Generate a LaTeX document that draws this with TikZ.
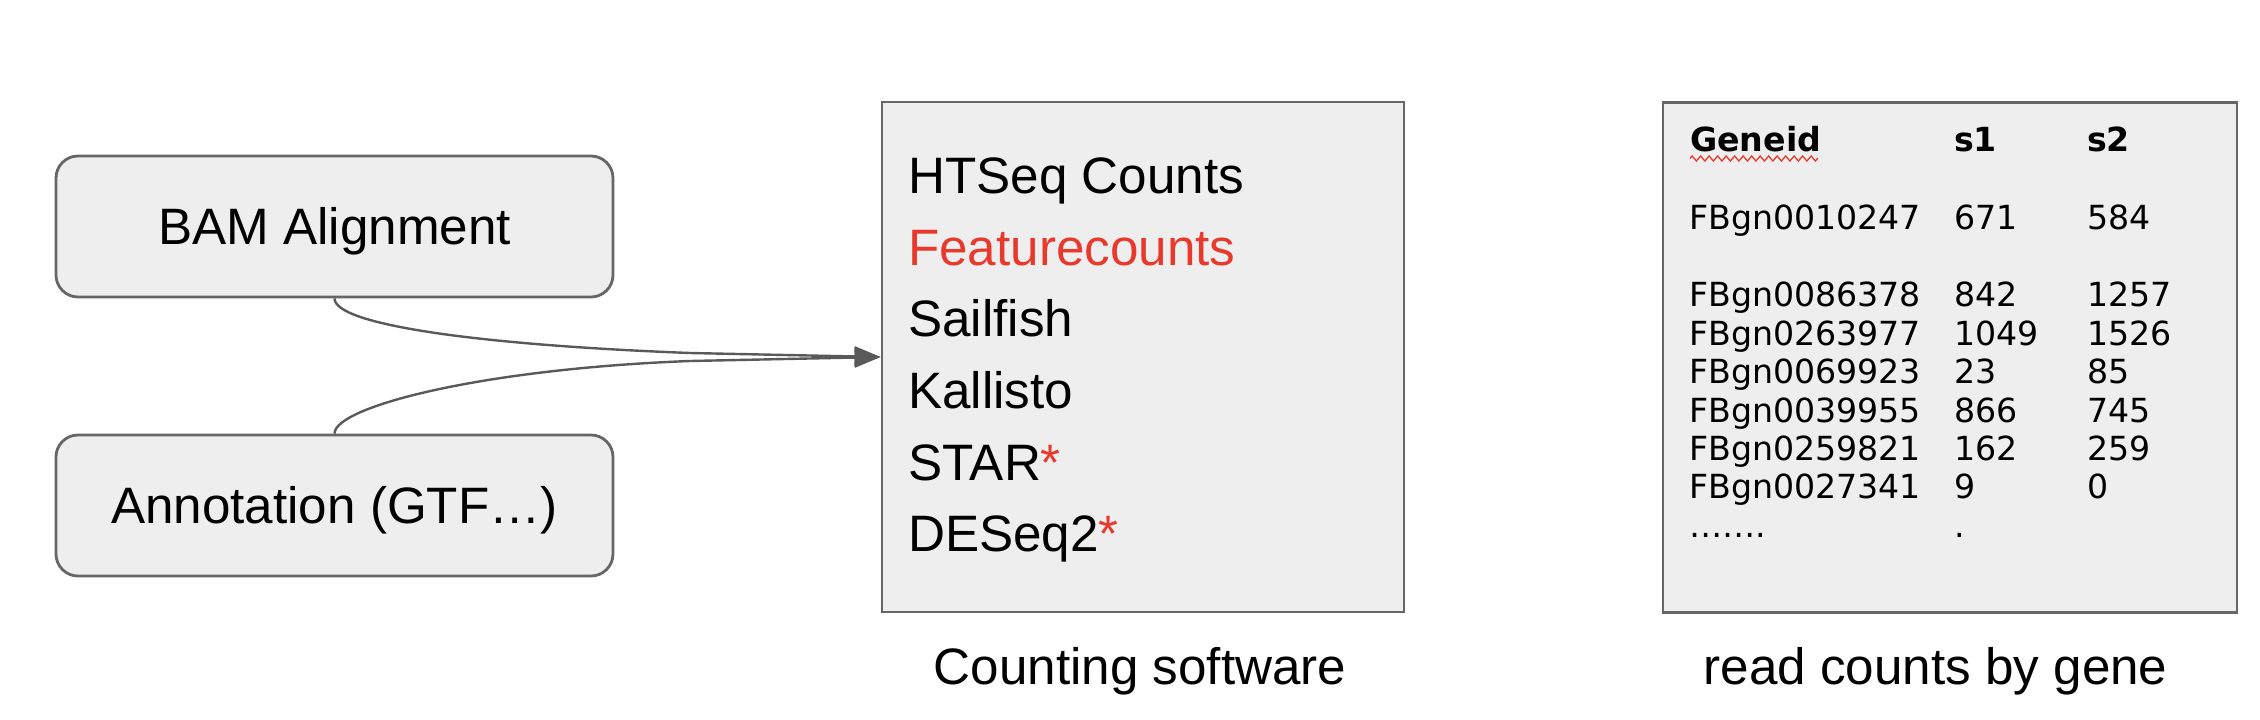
\documentclass[tikz,border=0pt]{standalone}
\usepackage{fontspec}
\newfontfamily\lsans{Liberation Sans}
\newfontfamily\dvs{DejaVu Sans}
\usetikzlibrary{arrows.meta,decorations.pathmorphing}
\definecolor{boxline}{HTML}{666666}
\definecolor{boxfill}{HTML}{EEEEEE}
\definecolor{arrowcol}{HTML}{595959}
\definecolor{hlred}{HTML}{E8392C}
\newcommand\mybigfont{\lsans\fontsize{51.2}{60}\selectfont}
\newcommand\mytabfont{\dvs\fontsize{33.2}{38}\selectfont}
\begin{document}
\begin{tikzpicture}[x=1pt,y=-1pt,
  box/.style={draw=boxline, fill=boxfill, line width=2.8pt, inner sep=0pt},
  rbox/.style={box, rounded corners=22pt, minimum width=557pt, minimum height=141pt,
    text height=36.7pt, text depth=0pt, font=\mybigfont},
  sbox/.style={box, minimum width=#1, minimum height=510pt},
  item/.style={inner sep=0pt, anchor=base west, font=\mybigfont},
  caption/.style={inner sep=0pt, anchor=base, font=\mybigfont},
  cell/.style={inner sep=0pt, anchor=base west, font=\mytabfont},
  hcell/.style={inner sep=0pt, anchor=base west, font=\mytabfont\bfseries},
  conn/.style={draw=arrowcol, line width=2.4pt, -{Triangle[length=26pt,width=20pt]}}
]
\path[use as bounding box] (0,0) rectangle (2260,720);

% left input boxes
\node[rbox] (bam) at (334.5,226.5) {BAM Alignment};
\node[rbox] (ann) at (334.5,505.5) {Annotation (GTF\ldots)};

% counting software box
\node[sbox=522pt] (cnt) at (1143,357) {};
\node[item] (t1) at (908,193) {HTSeq Counts};
\node[item, text=hlred] (t2) at (908,265) {Featurecounts};
\node[item] (t3) at (908,336) {Sailfish};
\node[item] (t4) at (908,408) {Kallisto};
\node[item] (t5) at (908,480) {STAR\textcolor{hlred}{*}};
\node[item] (t6) at (908,551) {DESeq2\textcolor{hlred}{*}};
\node[caption] (capc) at (1140,684) {Counting software};

% read counts box
\node[sbox=574pt] (genes) at (1950,357.5) {};
\node[hcell] (h1) at (1690,151) {Geneid};
\node[hcell] (h2) at (1954,151) {s1};
\node[hcell] (h3) at (2087,151) {s2};
\draw[hlred, line width=1.3pt, decorate,
  decoration={zigzag, segment length=8.5pt, amplitude=2.5pt}]
  (1690,158.5) -- (1818,158.5);

\node[cell] (r1a) at (1689,229) {FBgn0010247};
\node[cell] (r1b) at (1954,229) {671};
\node[cell] (r1c) at (2087,229) {584};
\node[cell] (r2a) at (1689,306) {FBgn0086378};
\node[cell] (r2b) at (1954,306) {842};
\node[cell] (r2c) at (2087,306) {1257};
\node[cell] (r3a) at (1689,345) {FBgn0263977};
\node[cell] (r3b) at (1954,345) {1049};
\node[cell] (r3c) at (2087,345) {1526};
\node[cell] (r4a) at (1689,383) {FBgn0069923};
\node[cell] (r4b) at (1954,383) {23};
\node[cell] (r4c) at (2087,383) {85};
\node[cell] (r5a) at (1689,422) {FBgn0039955};
\node[cell] (r5b) at (1954,422) {866};
\node[cell] (r5c) at (2087,422) {745};
\node[cell] (r6a) at (1689,460) {FBgn0259821};
\node[cell] (r6b) at (1954,460) {162};
\node[cell] (r6c) at (2087,460) {259};
\node[cell] (r7a) at (1689,498) {FBgn0027341};
\node[cell] (r7b) at (1954,498) {9};
\node[cell] (r7c) at (2087,498) {0};
\node[cell] (r8a) at (1689,537) {…….};
\node[cell] (r8b) at (1954,537) {.};
\node[caption] (capg) at (1935.5,684) {read counts by gene};

% connectors
\coordinate (j1) at (690,353);
\coordinate (j2) at (690,361);
\draw[conn] (bam.south) .. controls (334.5,325) and (480,345) .. (j1) -- (cnt.west);
\draw[conn] (ann.north) .. controls (334.5,407) and (480,369) .. (j2) -- (cnt.west);
\end{tikzpicture}
\end{document}
